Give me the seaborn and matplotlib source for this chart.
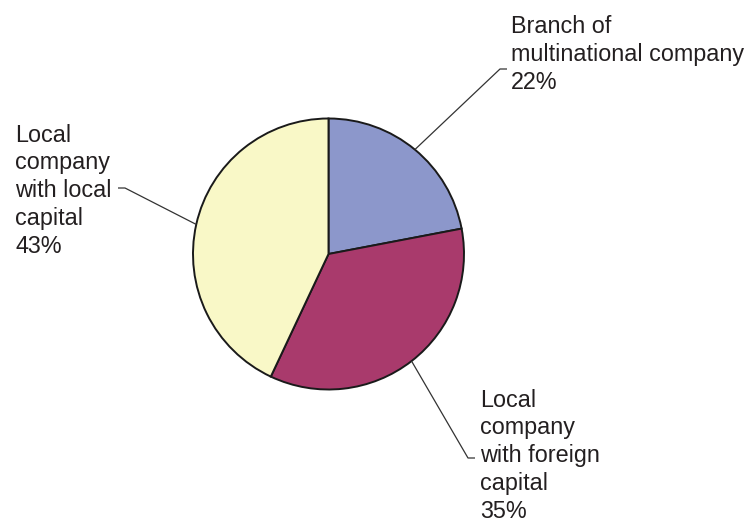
import numpy as np
import matplotlib
matplotlib.use("Agg")
import matplotlib.pyplot as plt
import seaborn as sns

# Ownership structure of companies
categories = ["Branch of\nmultinational company",
              "Local\ncompany\nwith foreign\ncapital",
              "Local\ncompany\nwith local\ncapital"]
shares = [22, 35, 43]
slice_colors = ["#8c97cb", "#a93a6c", "#f9f8c7"]

sns.set_theme(style="white")
plt.rcParams["font.family"] = ["Liberation Sans", "DejaVu Sans"]

W, H = 749, 523
fig = plt.figure(figsize=(W / 100, H / 100), dpi=100)
ax = fig.add_axes([0, 0, 1, 1])

cx, cy, r = 328.5, H - 254, 135.5
palette = sns.color_palette(slice_colors)
wedges, _ = ax.pie(shares, colors=palette, startangle=90, counterclock=False,
                   center=(cx, cy), radius=r, frame=True,
                   wedgeprops=dict(edgecolor="#1a1a1a", linewidth=1.4))
ax.set_xlim(0, W)
ax.set_ylim(0, H)
ax.set_aspect("equal")
ax.axis("off")

# leader elbow, short tick end, and text anchor (left x, baseline of last line),
# given with y measured downward from the top edge
leaders = [((500, 69), (507, 69), (511, 89)),
           ((468, 458), (475, 458), (480, 518)),
           ((125, 188), (118, 188), (15, 253))]

for w, share, label, (elbow, tick, txt) in zip(wedges, shares, categories, leaders):
    mid = np.deg2rad((w.theta1 + w.theta2) / 2)
    x0, y0 = cx + r * np.cos(mid), cy + r * np.sin(mid)
    ax.plot([x0, elbow[0], tick[0]], [y0, H - elbow[1], H - tick[1]],
            color="#333333", lw=0.9, solid_capstyle="butt")
    ax.text(txt[0], H - txt[1], f"{label}\n{share}%", ha="left", va="baseline",
            fontsize=16.8, color="#231f20", linespacing=1.27)

fig.savefig("out.png", dpi=100)
